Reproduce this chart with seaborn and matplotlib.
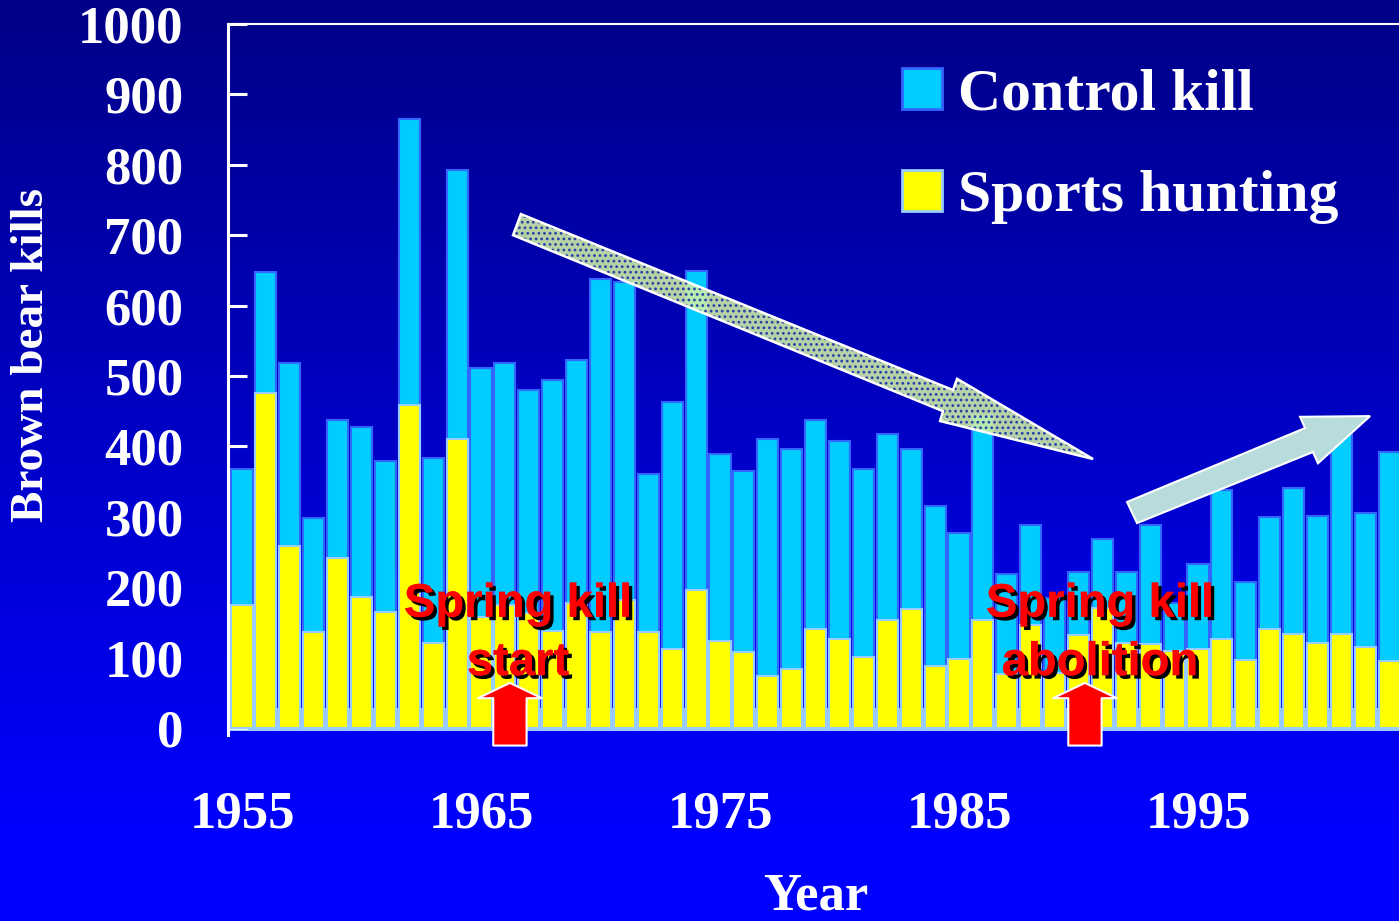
import numpy as np
import pandas as pd
import matplotlib
matplotlib.use('Agg')
import matplotlib.pyplot as plt
import matplotlib.patheffects as pe
from matplotlib.patches import Patch, Polygon
import seaborn as sns

# brown bear kills per year
years = list(range(1955, 2004))
sports_hunting = [175, 476, 259, 137, 241, 186, 165, 459, 120, 410,
                  158, 175, 163, 138, 178, 137, 182, 137, 112, 196,
                  123, 108, 74, 84, 141, 126, 101, 154, 169, 88,
                  98, 154, 76, 146, 78, 132, 170, 120, 119, 110,
                  112, 126, 96, 141, 134, 121, 134, 115, 95]
control_kill = [193, 172, 259, 161, 197, 242, 214, 406, 263, 382,
                353, 343, 317, 356, 345, 501, 452, 224, 351, 453,
                266, 257, 336, 312, 297, 281, 267, 263, 227, 227,
                179, 291, 142, 142, 107, 89, 98, 102, 169, 68,
                121, 212, 112, 158, 207, 180, 306, 191, 297]
tick_years = [1955, 1965, 1975, 1985, 1995]
y_ticks = list(range(0, 1001, 100))

df = pd.DataFrame({'year': years, 'sports': sports_hunting, 'control': control_kill})
df['total'] = df['sports'] + df['control']

plt.rcParams['font.family'] = ['Liberation Serif', 'DejaVu Serif']
plt.rcParams['font.weight'] = 'bold'
plt.rcParams['hatch.linewidth'] = 1.2

W, H = 1399, 921
fig = plt.figure(figsize=(W / 100, H / 100), dpi=100)

# background gradient navy -> bright blue
bg = fig.add_axes([0, 0, 1, 1], zorder=-10)
t = np.linspace(0, 1, 400)
blue = np.clip(0.53 + 0.47 * t / 0.9, 0, 1)
img = np.zeros((400, 1, 3))
img[:, 0, 2] = blue
bg.imshow(img, aspect='auto', extent=[0, 1, 0, 1])
bg.axis('off')

ax = fig.add_axes([228 / W, (H - 735) / H, 1 - 228 / W, (735 - 24) / H])
ax.set_facecolor('none')

# light blue floor
ax.axhspan(-4, 28, color='#99CCFF', zorder=0.5, lw=0)

sns.barplot(data=df, x='year', y='total', color='#00CCFF', edgecolor='#3366FF',
            linewidth=1.5, width=0.88, saturation=1, errorbar=None, ax=ax, zorder=2)
sns.barplot(data=df, x='year', y='sports', color='#FFFF00', edgecolor='#99CCFF',
            linewidth=1.5, width=0.88, saturation=1, errorbar=None, ax=ax, zorder=2)

ax.set_xlim(-0.586, 48.41)
ax.set_ylim(-10, 1000)
ax.set_xlabel('')
ax.set_ylabel('')

for side in ['right', 'bottom']:
    ax.spines[side].set_visible(False)
ax.spines['left'].set_color('white')
ax.spines['left'].set_linewidth(2.2)
ax.spines['top'].set_color('white')
ax.spines['top'].set_linewidth(1.5)

ax.set_yticks(y_ticks)
ax.tick_params(axis='y', direction='in', length=14, width=2.2, colors='white',
               pad=32, labelsize=38)
ax.set_xticks([years.index(y) for y in tick_years], labels=[str(y) for y in tick_years])
ax.tick_params(axis='x', length=0, pad=40, labelsize=38, labelcolor='white')

fig.text(32 / W, 1 - 355 / H, 'Brown bear kills', rotation=90, ha='center', va='center',
         fontsize=34, color='white')
fig.text(816 / W, 1 - 909 / H, 'Year', ha='center', va='baseline', fontsize=38, color='white')

handles = [Patch(facecolor='#00CCFF', edgecolor='#3366FF', lw=2, label='Control kill'),
           Patch(facecolor='#FFFF00', edgecolor='#99CCFF', lw=2, label='Sports hunting')]
ax.legend(handles=handles, loc='upper left', bbox_to_anchor=(902 / W, 1 - 68 / H),
          bbox_transform=fig.transFigure, frameon=False, fontsize=43, labelcolor='white',
          handlelength=0.67, handleheight=0.67, handletextpad=0.26, labelspacing=0.8,
          borderpad=0, borderaxespad=0)

# trend arrows (bar index, value)
down_arrow = [(11.67, 730), (29.75, 480), (29.92, 496), (35.61, 382),
              (29.21, 436), (29.33, 450), (11.34, 700)]
ax.add_patch(Polygon(down_arrow, closed=True, facecolor='#d2f0a4', edgecolor='#1830a8',
                     hatch='...', lw=0, alpha=0.88, zorder=4, clip_on=False))
ax.add_patch(Polygon(down_arrow, closed=True, fill=False, edgecolor='white', lw=1.8,
                     zorder=4.1, clip_on=False))
up_arrow = [(37.03, 321), (44.48, 426), (44.27, 442), (47.20, 443), (45.02, 376),
            (44.81, 392), (37.45, 291)]
ax.add_patch(Polygon(up_arrow, closed=True, facecolor='#B8DCDC', edgecolor='white',
                     lw=1.5, zorder=4, clip_on=False))

# spring kill annotations
shadow = [pe.withSimplePatchShadow(offset=(2.5, -2.5), shadow_rgbFace='black', alpha=1),
          pe.Normal()]
notes = [(11.55, 'start', 11.21), (35.9, 'abolition', 35.27)]
for xpos, word, apos in notes:
    for txt, val in [('Spring kill', 158), (word, 75)]:
        ax.text(xpos, val, txt, ha='center', va='baseline', fontsize=34, color='#FF0000',
                family=['Liberation Sans', 'DejaVu Sans'], path_effects=shadow, zorder=6)
    ann = ax.annotate('', xy=(apos, 64), xytext=(apos, -25), annotation_clip=False,
                      arrowprops=dict(arrowstyle='simple,head_length=11,head_width=46,tail_width=24',
                                      mutation_scale=1, fc='#FF0000', ec='white', lw=1.5,
                                      shrinkA=0, shrinkB=0), zorder=5)
    ann.arrow_patch.set_clip_on(False)

fig.savefig('out.png', dpi=100)
